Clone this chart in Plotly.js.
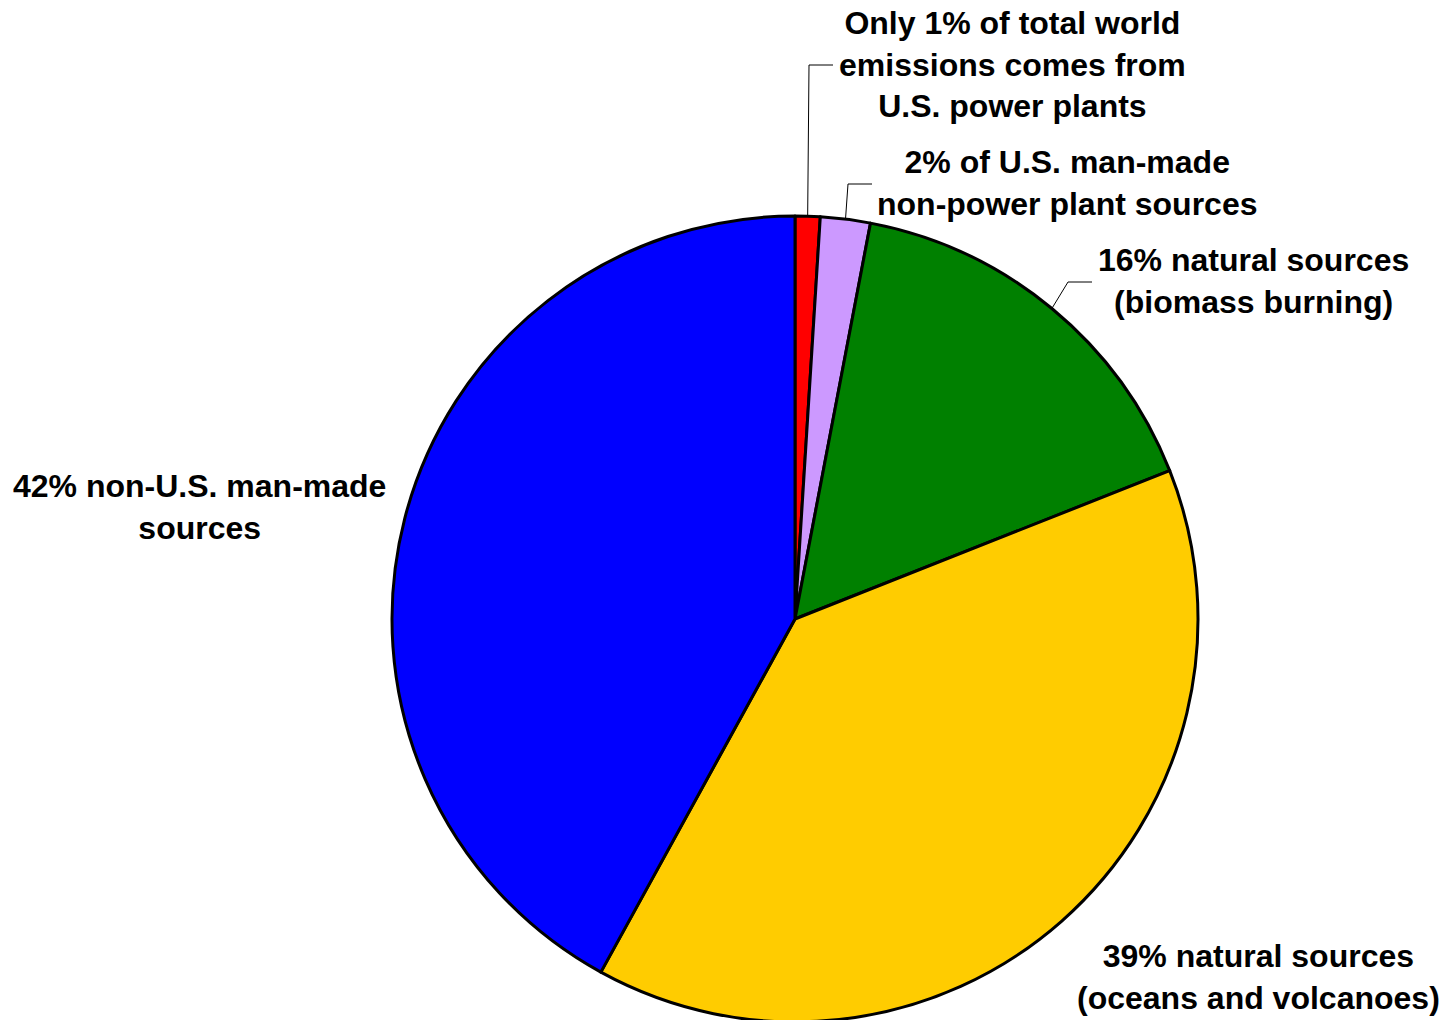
<!DOCTYPE html>
<html>
<head>
<meta charset="utf-8">
<script src="https://cdn.plot.ly/plotly-3.0.1.min.js"></script>
<style>
html,body{margin:0;padding:0;overflow:hidden;background:#fff;}
#chart{width:1443px;height:1024px;}
</style>
</head>
<body>
<div id="chart"></div>
<script>
// ---- data ----
var categories = [
  "U.S. power plants",
  "U.S. man-made non-power plant sources",
  "Natural sources (biomass burning)",
  "Natural sources (oceans and volcanoes)",
  "Non-U.S. man-made sources"
];
var shares = [1, 2, 16, 39, 42];
var sliceColors = ["#FF0000", "#CC99FF", "#008000", "#FFCC00", "#0000FF"];
var labelTexts = [
  "Only 1% of total world<br>emissions comes from<br>U.S. power plants",
  "2% of U.S. man-made<br>non-power plant sources",
  "16% natural sources<br>(biomass burning)",
  "39% natural sources<br>(oceans and volcanoes)",
  "42% non-U.S. man-made<br>sources"
];

// ---- layout geometry (pixels) ----
var W = 1443, H = 1024;
var M = {l: 392, r: 245, t: 216, b: 2};
var PW = W - M.l - M.r, PH = H - M.t - M.b;
var cx = M.l + PW / 2, cy = M.t + PH / 2, R = Math.min(PW, PH) / 2;
function px2x(px) { return (px - M.l) / PW; }
function py2y(py) { return (H - M.b - py) / PH; }

// label positions (pixel centres) and leader elbows
var labelPos = [[1012, 64], [1067, 183], [1253, 281], [1258, 977], [199, 507]];
var leaderElbow = [[809, 65, 833], [848, 184, 872], [1068, 282, 1092], null, null];

var total = shares.reduce(function (a, b) { return a + b; }, 0);
var shapes = [];
var cum = 0;
shares.forEach(function (v, i) {
  var mid = (cum + v / 2) / total * 2 * Math.PI;
  cum += v;
  var e = leaderElbow[i];
  if (!e) return;
  var sx = cx + R * Math.sin(mid), sy = cy - R * Math.cos(mid);
  var path = 'M' + px2x(sx) + ',' + py2y(sy) + ' L' + px2x(e[0]) + ',' + py2y(e[1]) +
             ' L' + px2x(e[2]) + ',' + py2y(e[1]);
  shapes.push({type: 'path', xref: 'paper', yref: 'paper', path: path,
               line: {color: '#000', width: 1}});
});

var annotations = labelTexts.map(function (t, i) {
  return {
    text: '<b>' + t + '</b>', xref: 'paper', yref: 'paper',
    x: px2x(labelPos[i][0]), y: py2y(labelPos[i][1]),
    xanchor: 'center', yanchor: 'middle', showarrow: false, align: 'center',
    font: {family: '"Liberation Sans", Arial, sans-serif', size: 32, color: '#000'}
  };
});

var trace = {
  type: 'pie',
  labels: categories,
  values: shares,
  sort: false,
  direction: 'clockwise',
  rotation: 0,
  textinfo: 'none',
  hoverinfo: 'label+percent',
  marker: {colors: sliceColors, line: {color: '#000', width: 3}},
  domain: {x: [0, 1], y: [0, 1]},
  showlegend: false
};

Plotly.newPlot('chart', [trace], {
  width: W, height: H,
  margin: M,
  paper_bgcolor: '#fff',
  plot_bgcolor: '#fff',
  showlegend: false,
  annotations: annotations,
  shapes: shapes
}, {displayModeBar: false, staticPlot: true});
</script>
</body>
</html>
